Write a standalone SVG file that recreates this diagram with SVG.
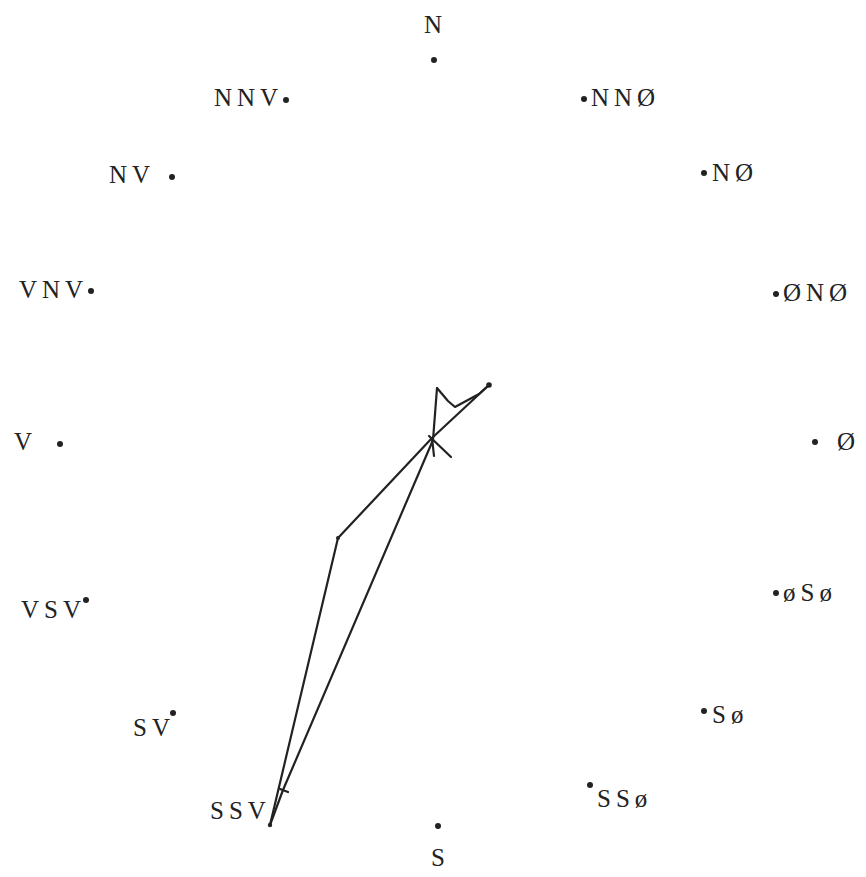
<svg xmlns="http://www.w3.org/2000/svg" width="866" height="877" viewBox="0 0 866 877">
<style>
.lbl{font-family:"Liberation Serif","Times New Roman",serif;font-size:25px;letter-spacing:5px;fill:#222}
.dot{fill:#222}
.ln{fill:none;stroke:#222;stroke-width:2.2;stroke-linejoin:round;stroke-linecap:round}
</style>
<rect width="866" height="877" fill="#fff"/>
<g id="N"><text class="lbl" x="424" y="33">N</text><circle class="dot" cx="434" cy="60" r="3"/></g>
<g id="NNV"><text class="lbl" x="214" y="106">NNV</text><circle class="dot" cx="286" cy="100" r="3"/></g>
<g id="NNO"><circle class="dot" cx="584" cy="99" r="3"/><text class="lbl" x="591" y="106">NNØ</text></g>
<g id="NV"><text class="lbl" x="109" y="183">NV</text><circle class="dot" cx="172" cy="177" r="3"/></g>
<g id="NO"><circle class="dot" cx="704" cy="173" r="3"/><text class="lbl" x="712" y="181">NØ</text></g>
<g id="VNV"><text class="lbl" x="19" y="298">VNV</text><circle class="dot" cx="91" cy="291" r="3"/></g>
<g id="ONO"><circle class="dot" cx="776" cy="294" r="3"/><text class="lbl" x="783" y="301">ØNØ</text></g>
<g id="V"><text class="lbl" x="14" y="450">V</text><circle class="dot" cx="60" cy="444" r="3"/></g>
<g id="O"><circle class="dot" cx="815" cy="442" r="3"/><text class="lbl" x="837" y="450">Ø</text></g>
<g id="VSV"><text class="lbl" x="21" y="618">VSV</text><circle class="dot" cx="86" cy="600" r="3"/></g>
<g id="OSO"><circle class="dot" cx="776" cy="593" r="3"/><text class="lbl" x="783" y="601">øSø</text></g>
<g id="SV"><text class="lbl" x="133" y="736">SV</text><circle class="dot" cx="173" cy="713" r="3"/></g>
<g id="SO"><circle class="dot" cx="704" cy="711" r="3"/><text class="lbl" x="712" y="723">Sø</text></g>
<g id="SSV"><text class="lbl" x="210" y="819">SSV</text></g>
<g id="SSO"><circle class="dot" cx="590" cy="785" r="3"/><text class="lbl" x="597" y="807">SSø</text></g>
<g id="S"><circle class="dot" cx="438" cy="826" r="3"/><text class="lbl" x="431" y="866">S</text></g>
<g id="connectors">
<path class="ln" d="M489,385 L432,438 L338,538 L270,825"/>
<path class="ln" d="M437,388 L433,440 L283,790 L270,825"/>
<path class="ln" d="M437,388 L448,401 L455,407 L479,394 L489,385"/>
<path class="ln" d="M429,436 L451,457"/>
<path class="ln" stroke-width="4.5" d="M432,438 L434,456"/>
<path class="ln" stroke-width="4.5" d="M280,789 L288,792"/>
<circle class="dot" cx="489" cy="385" r="2.8"/>
<circle class="dot" cx="270" cy="825" r="2.2"/>
<circle class="dot" cx="338" cy="538" r="2"/>
</g>
</svg>
